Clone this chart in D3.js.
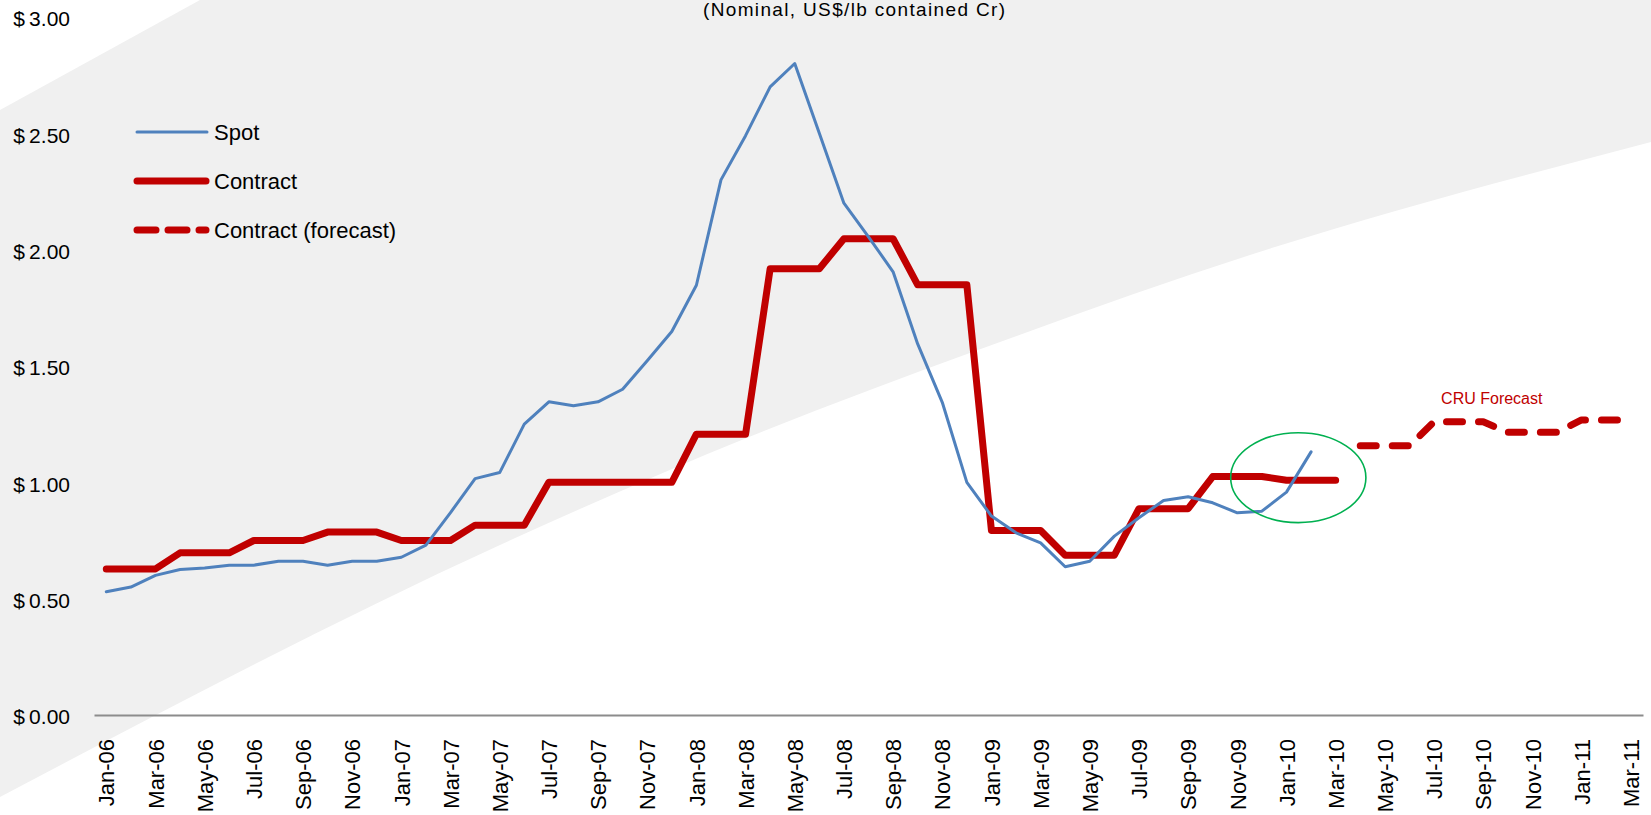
<html>
<head>
<meta charset="utf-8">
<script src="https://d3js.org/d3.v7.min.js"></script>
<style>
  body { margin: 0; background: #fff; }
  svg text { font-family: "Liberation Sans", Arial, sans-serif; fill: #000; }
</style>
</head>
<body>
<svg width="1651" height="815"></svg>
<script>
// month categories (every one is a point on the axis, every 2nd one is labelled)
const months = ["Jan-06","Feb-06","Mar-06","Apr-06","May-06","Jun-06","Jul-06","Aug-06","Sep-06","Oct-06","Nov-06","Dec-06",
                "Jan-07","Feb-07","Mar-07","Apr-07","May-07","Jun-07","Jul-07","Aug-07","Sep-07","Oct-07","Nov-07","Dec-07",
                "Jan-08","Feb-08","Mar-08","Apr-08","May-08","Jun-08","Jul-08","Aug-08","Sep-08","Oct-08","Nov-08","Dec-08",
                "Jan-09","Feb-09","Mar-09","Apr-09","May-09","Jun-09","Jul-09","Aug-09","Sep-09","Oct-09","Nov-09","Dec-09",
                "Jan-10","Feb-10","Mar-10","Apr-10","May-10","Jun-10","Jul-10","Aug-10","Sep-10","Oct-10","Nov-10","Dec-10",
                "Jan-11","Feb-11","Mar-11"];

// spot price, Jan-06 .. Feb-10
const spot = [0.53,0.55,0.60,0.625,0.632,0.644,0.644,0.661,0.661,0.644,0.661,0.661,
              0.678,0.73,0.87,1.016,1.042,1.25,1.346,1.329,1.346,1.40,1.523,1.648,
              1.847,2.30,2.49,2.70,2.80,2.50,2.20,2.055,1.905,1.595,1.344,1.00,
              0.855,0.783,0.74,0.637,0.661,0.769,0.848,0.922,0.938,0.912,0.869,0.876,
              0.958,1.131];

// contract price, Jan-06 .. Mar-10
const contract = [0.628,0.628,0.628,0.697,0.697,0.697,0.75,0.75,0.75,0.786,0.786,0.786,
                  0.75,0.75,0.75,0.816,0.816,0.816,1.00,1.00,1.00,1.00,1.00,1.00,
                  1.207,1.207,1.207,1.918,1.918,1.918,2.047,2.047,2.047,1.849,1.849,1.849,
                  0.793,0.793,0.793,0.687,0.687,0.687,0.887,0.887,0.887,1.025,1.025,1.025,
                  1.009,1.009,1.009];

// contract forecast, Apr-10 .. Mar-11
const forecast = [1.157,1.157,1.157,1.26,1.26,1.26,1.215,1.215,1.215,1.268,1.268,1.268];
const forecastStart = "Apr-10";

const yTicks = [0, 0.5, 1, 1.5, 2, 2.5, 3];
const legendItems = ["Spot", "Contract", "Contract (forecast)"];
const title = "(Nominal, US$/lb contained Cr)";
const note = {text: "CRU Forecast", month: "Sep-10", offset: 0.35, value: 1.337};
const ring = {month: "Jan-10", offset: 0.48, value: 1.02, rMonths: 2.75, rValue: 0.193};

const svg = d3.select("svg");
const W = 1651, H = 815;

// background: light grey swoosh
svg.append("rect").attr("width", W).attr("height", H).attr("fill", "#f0f0f0");
svg.append("path").attr("fill", "#fff").attr("d", "M0,0L200,0L0,110Z");
const edge = d3.line().curve(d3.curveMonotoneX)([[0,797],[500,545],[749,437],[978,350],[1250,255],[1651,142]]);
svg.append("path").attr("fill", "#fff").attr("d", edge + "L1651,815L0,815Z");

const x = d3.scalePoint().domain(months).range([94, 1643]).padding(0.5);
const step = x.step();
const y = d3.scaleLinear().domain([0, 3]).range([715, 17]);

// title (top is cut off in the original)
svg.append("text").attr("x", 854).attr("y", 16).attr("text-anchor", "middle")
   .attr("font-size", 19).attr("textLength", 302).attr("lengthAdjust", "spacing")
   .text(title);

// x axis
const xAxis = svg.append("g").attr("transform", "translate(0,715)")
   .call(d3.axisBottom(x).tickValues(months.filter((d, i) => i % 2 == 0)).tickSize(0).tickSizeOuter(0));
xAxis.select(".domain").attr("stroke", "#8c8c8c").attr("stroke-width", 2);
xAxis.selectAll("text").attr("font-size", 22).attr("font-family", null)
   .attr("transform", "rotate(-90)").attr("text-anchor", "end")
   .attr("x", -24).attr("y", 0).attr("dy", "0.35em");

// y axis (labels only)
const yAxis = svg.append("g").attr("transform", "translate(70,0)")
   .call(d3.axisLeft(y).tickValues(yTicks).tickSize(0).tickPadding(0)
           .tickFormat(d => "$\u2009" + d.toFixed(2)));
yAxis.select(".domain").remove();
yAxis.selectAll("text").attr("font-size", 21).attr("font-family", null).attr("dy", "0.42em");

// series
const line = d3.line().x(d => x(d.m)).y(d => y(d.v));
const spotPts = spot.map((v, i) => ({m: months[i], v: v}));
const contractPts = contract.map((v, i) => ({m: months[i], v: v}));
const f0 = months.indexOf(forecastStart);
const forecastPts = forecast.map((v, i) => ({m: months[f0 + i], v: v}));

svg.append("path").datum(contractPts).attr("d", line).attr("fill", "none")
   .attr("stroke", "#c00000").attr("stroke-width", 7)
   .attr("stroke-linejoin", "round").attr("stroke-linecap", "round");
svg.append("path").datum(forecastPts).attr("d", line).attr("fill", "none")
   .attr("stroke", "#c00000").attr("stroke-width", 7).attr("stroke-dasharray", "16,16")
   .attr("stroke-linejoin", "round").attr("stroke-linecap", "round");
svg.append("path").datum(spotPts).attr("d", line).attr("fill", "none")
   .attr("stroke", "#4f81bd").attr("stroke-width", 3)
   .attr("stroke-linejoin", "round").attr("stroke-linecap", "round");

// green ring around the latest prices
svg.append("ellipse")
   .attr("cx", x(ring.month) + ring.offset * step).attr("cy", y(ring.value))
   .attr("rx", ring.rMonths * step).attr("ry", y(0) - y(ring.rValue))
   .attr("fill", "none").attr("stroke", "#00b050").attr("stroke-width", 1.6);

// forecast note
svg.append("text").attr("x", x(note.month) + note.offset * step).attr("y", y(note.value))
   .attr("text-anchor", "middle").attr("font-size", 16).style("fill", "#c00000")
   .text(note.text);

// legend
const leg = svg.append("g");
const legStyle = [{c: "#4f81bd", w: 3, dash: null, x1: 137, x2: 207},
                  {c: "#c00000", w: 7, dash: null, x1: 137, x2: 206},
                  {c: "#c00000", w: 7, dash: "19,12", x1: 137, x2: 206}];
legendItems.forEach((t, i) => {
  const yy = 132 + i * 49;
  leg.append("line").attr("x1", legStyle[i].x1).attr("x2", legStyle[i].x2)
     .attr("y1", yy).attr("y2", yy).attr("stroke", legStyle[i].c)
     .attr("stroke-width", legStyle[i].w).attr("stroke-linecap", "round")
     .attr("stroke-dasharray", legStyle[i].dash);
  leg.append("text").attr("x", 214).attr("y", yy + 8).attr("font-size", 22).text(t);
});
</script>
</body>
</html>
